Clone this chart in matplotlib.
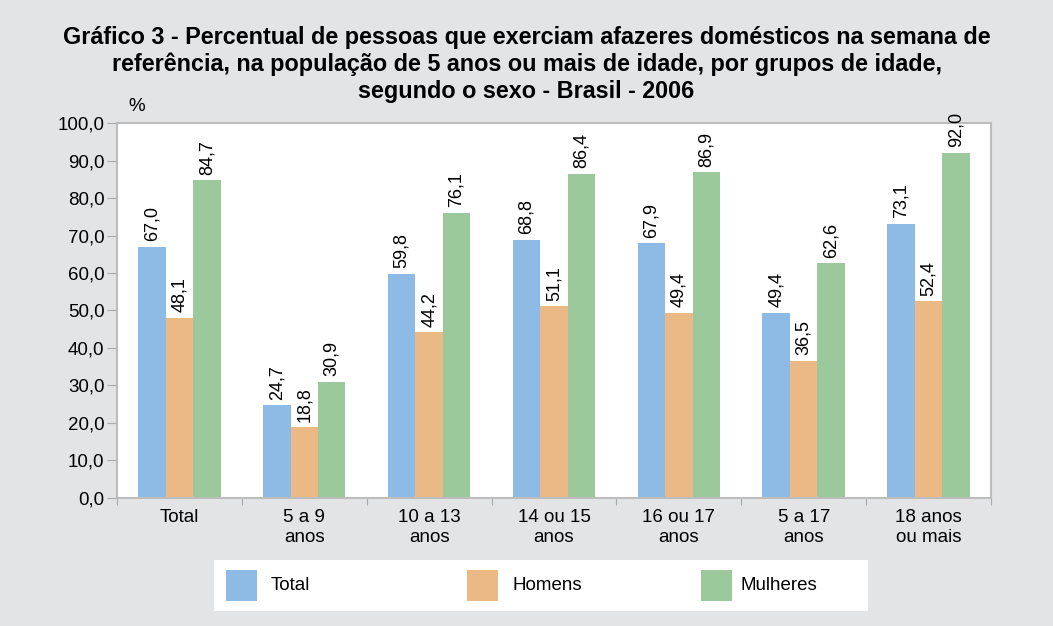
import numpy as np
import matplotlib.pyplot as plt
from matplotlib.patches import Rectangle

plt.rcParams['font.family'] = ['Liberation Sans', 'DejaVu Sans']

categories = ['Total', '5 a 9\nanos', '10 a 13\nanos', '14 ou 15\nanos',
              '16 ou 17\nanos', '5 a 17\nanos', '18 anos\nou mais']
total = [67.0, 24.7, 59.8, 68.8, 67.9, 49.4, 73.1]
homens = [48.1, 18.8, 44.2, 51.1, 49.4, 36.5, 52.4]
mulheres = [84.7, 30.9, 76.1, 86.4, 86.9, 62.6, 92.0]
series_names = ['Total', 'Homens', 'Mulheres']
title_lines = ['Gráfico 3 - Percentual de pessoas que exerciam afazeres domésticos na semana de',
               'referência, na população de 5 anos ou mais de idade, por grupos de idade,',
               'segundo o sexo - Brasil - 2006']
colors = ['#8dbbe6', '#ebb986', '#9bc99b']
bg = '#e3e4e6'
fs = 13.5

fig = plt.figure(figsize=(10.53, 6.26), dpi=100, facecolor=bg)
ax = fig.add_axes([0.1111, 0.2045, 0.83, 0.599])
ax.set_facecolor('white')

x = np.arange(len(categories))
w = 0.22
for i, (vals, c) in enumerate(zip([total, homens, mulheres], colors)):
    pos = x + (i - 1) * w
    ax.bar(pos, vals, width=w, color=c, zorder=2)
    for p, v in zip(pos, vals):
        ax.text(p, v + 1.5, f'{v:.1f}'.replace('.', ','), rotation=90,
                ha='center', va='bottom', fontsize=13)

ax.set_xlim(-0.5, len(categories) - 0.5)
ax.set_ylim(0, 100)
yt = np.arange(0, 101, 10)
ax.set_yticks(yt)
ax.set_yticklabels([f'{v:.1f}'.replace('.', ',') for v in yt], fontsize=fs)
ax.set_xticks(np.arange(len(categories) + 1) - 0.5)
ax.set_xticklabels([])
ax.set_xticks(x, minor=True)
ax.set_xticklabels(categories, minor=True, fontsize=fs, linespacing=1.25)
ax.tick_params(axis='x', which='minor', length=0, pad=8)
ax.tick_params(axis='x', which='major', length=5, color='#aaaaaa')
ax.tick_params(axis='y', length=7, color='#aaaaaa', pad=2)
for s in ax.spines.values():
    s.set_color('#bdbdbd')
    s.set_linewidth(1.5)

fig.text(0.122, 0.817, '%', fontsize=fs, ha='left', va='bottom')

# title, one text per line
for k, line in enumerate(title_lines):
    fig.text(0.5, 1 - (26 + 27 * k) / 626, line, ha='center', va='top',
             fontsize=16.8, fontweight='bold')

# legend box
fig.patches.append(Rectangle((214 / 1053, 1 - 611 / 626), (868 - 214) / 1053, 51 / 626,
                             transform=fig.transFigure, facecolor='white',
                             edgecolor='none', zorder=1))
patch_x = [226, 467, 701]
text_x = [271, 512, 741]
for name, c, px, tx in zip(series_names, colors, patch_x, text_x):
    fig.patches.append(Rectangle((px / 1053, 1 - 601 / 626), 31 / 1053, 31 / 626,
                                 transform=fig.transFigure, facecolor=c,
                                 edgecolor='none', zorder=2))
    fig.text(tx / 1053, 1 - 585 / 626, name, fontsize=fs, ha='left', va='center', zorder=3)

fig.savefig('out.png', dpi=100, facecolor=bg)
